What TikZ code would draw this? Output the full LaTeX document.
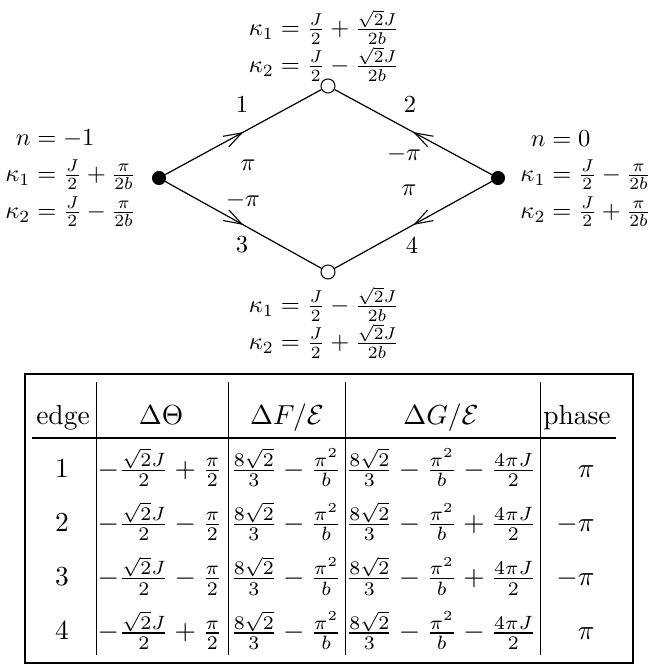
\documentclass[tikz,border=0pt]{standalone}
\usetikzlibrary{arrows.meta,decorations.markings}
\begin{document}
\begin{tikzpicture}[x=1pt,y=-1pt,
  lbl/.style={scale=2.45,inner sep=0pt},
  tbl/.style={scale=2.75,inner sep=0pt},
  vtx/.style={circle,draw,line width=1pt,minimum size=14pt,inner sep=0pt},
  filledvtx/.style={vtx,fill=black,minimum size=13pt},
  openvtx/.style={vtx,fill=white},
  edgeline/.style={line width=1.2pt,postaction={decorate},
    decoration={markings,mark=at position 0.5 with {\arrow{Straight Barb[length=18pt,width=12pt,line width=1.1pt]}}}},
  boxrule/.style={line width=1.1pt},
  colrule/.style={line width=0.8pt}
]
\useasboundingbox (0,0) rectangle (649,666);

% vertices
\node[filledvtx] (L) at (159,178) {};
\node[openvtx]   (T) at (328,86) {};
\node[filledvtx] (R) at (498,178) {};
\node[openvtx]   (B) at (328,272) {};

% edges
\draw[edgeline] (L) -- (T);
\draw[edgeline] (R) -- (T);
\draw[edgeline] (L) -- (B);
\draw[edgeline] (R) -- (B);

% edge numbers
\node[lbl] (e1) at (242,105) {$1$};
\node[lbl] (e2) at (410,105) {$2$};
\node[lbl] (e3) at (242,245) {$3$};
\node[lbl] (e4) at (412,246) {$4$};

% phases
\node[lbl] (p1) at (248,165) {$\pi$};
\node[lbl] (p2) at (243,200) {$-\pi$};
\node[lbl] (p3) at (404,154) {$-\pi$};
\node[lbl] (p4) at (409,190) {$\pi$};

% top labels
\node[lbl] (t1) at (324,27) {$\kappa_1=\frac{J}{2}+\frac{\sqrt{2}J}{2b}$};
\node[lbl] (t2) at (324,64) {$\kappa_2=\frac{J}{2}-\frac{\sqrt{2}J}{2b}$};
% bottom labels
\node[lbl] (b1) at (324,304) {$\kappa_1=\frac{J}{2}-\frac{\sqrt{2}J}{2b}$};
\node[lbl] (b2) at (324,341) {$\kappa_2=\frac{J}{2}+\frac{\sqrt{2}J}{2b}$};
% left labels
\node[lbl,anchor=west] (ln)  at (30,139) {$\llap{$n$}=-1$};
\node[lbl,anchor=west] (lk1) at (30,175) {$\llap{$\kappa_1$}=\frac{J}{2}+\frac{\pi}{2b}$};
\node[lbl,anchor=west] (lk2) at (30,212) {$\llap{$\kappa_2$}=\frac{J}{2}-\frac{\pi}{2b}$};
% right labels
\node[lbl,anchor=west] (rn)  at (545,139) {$\llap{$n$}=0$};
\node[lbl,anchor=west] (rk1) at (545,175) {$\llap{$\kappa_1$}=\frac{J}{2}-\frac{\pi}{2b}$};
\node[lbl,anchor=west] (rk2) at (545,212) {$\llap{$\kappa_2$}=\frac{J}{2}+\frac{\pi}{2b}$};

% table frame and rules
\draw[boxrule] (25,374) rectangle (633,663);
\draw[colrule] (96,382) -- (96,655);
\draw[colrule] (228,382) -- (228,655);
\draw[colrule] (345,382) -- (345,655);
\draw[colrule] (540,382) -- (540,655);
\draw[boxrule] (32,438) -- (616,438);

% header
\node[tbl,anchor=base] (h1) at (63,424) {edge};
\node[tbl,anchor=base] (h2) at (161,424) {$\Delta\Theta$};
\node[tbl,anchor=base] (h3) at (287,424) {$\Delta F/\mathcal{E}$};
\node[tbl,anchor=base] (h4) at (441,424) {$\Delta G/\mathcal{E}$};
\node[tbl,anchor=base] (h5) at (577,424) {phase};

% rows
\foreach \n/\yy/\sa/\sb/\ph in {1/477/+/-/\pi, 2/531.3/-/+/-\pi, 3/585.6/-/+/-\pi, 4/639.9/+/-/\pi}{
  \node[tbl,anchor=base] (r\n a) at (62,\yy) {$\n$};
  \node[tbl,anchor=base] (r\n b) at (160,\yy) {$-\frac{\sqrt{2}J}{2}\sa\frac{\pi}{2}$};
  \node[tbl,anchor=base] (r\n c) at (286,\yy) {$\frac{8\sqrt{2}}{3}-\frac{\pi^2}{b}$};
  \node[tbl,anchor=base] (r\n d) at (441,\yy) {$\frac{8\sqrt{2}}{3}-\frac{\pi^2}{b}\sb\frac{4\pi J}{2}$};
  \node[tbl,anchor=base east] (r\n e) at (595,\yy) {$\ph$};
}
\end{tikzpicture}
\end{document}
